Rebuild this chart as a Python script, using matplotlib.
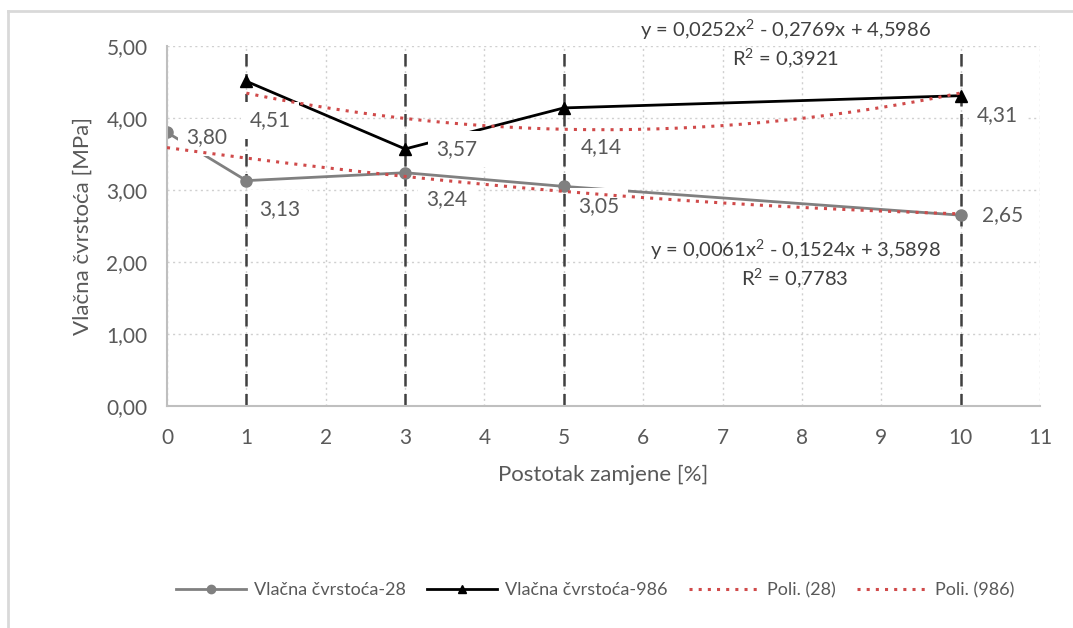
## plot.py: tensile strength vs replacement percentage with polynomial trendlines
# -----------------------------------------------------------------------------
print('\n*** vlacna cvrstoca: drawing figure ***')

# -----------------------------------------------------------------------------
print('\n## --- section__: importing items from module ---')
import numpy as np
from matplotlib import (pyplot as plt, lines as lin)

# -----------------------------------------------------------------------------
print('\n## --- section_a: setting data ---')
xx_28 = [0, 1, 3, 5, 10]
yy_28 = [3.80, 3.13, 3.24, 3.05, 2.65]
xx_986 = [1, 3, 5, 10]
yy_986 = [4.51, 3.57, 4.14, 4.31]
xx_mark = [1, 3, 5, 10]     # vertical dashed markers
# label offsets in pixels (right, down)
off_28 = [(40, 5), (33, 28), (42, 26), (35, 20), (42, 0)]
off_986 = [(24, 39), (52, 0), (38, 39), (37, 19)]
eq_28 = ('y = 0,0061x$^2$ - 0,1524x + 3,5898', 'R$^2$ = 0,7783')
eq_986 = ('y = 0,0252x$^2$ - 0,2769x + 4,5986', 'R$^2$ = 0,3921')
names = ['Vlačna čvrstoća-28', 'Vlačna čvrstoća-986', 'Poli. (28)', 'Poli. (986)']

# -----------------------------------------------------------------------------
print('\n## --- section_b: fitting polynomial trendlines ---')
cf_28 = np.polyfit(xx_28, yy_28, 2)
cf_986 = np.polyfit(xx_986, yy_986, 2)
xs_28 = np.linspace(min(xx_28), max(xx_28), 200)
xs_986 = np.linspace(min(xx_986), max(xx_986), 200)
print(f'coef 28 = {cf_28},  coef 986 = {cf_986}')

# -----------------------------------------------------------------------------
print('\n## --- section_c: drawing figure ---')
plt.rcParams['font.family'] = ['Lato', 'DejaVu Sans']
plt.rcParams['mathtext.fontset'] = 'custom'
plt.rcParams['mathtext.rm'] = 'Lato'
plt.rcParams['mathtext.it'] = 'Lato'
grey, txt, red = '#808080', '#595959', '#D04A4A'

fig = plt.figure(figsize=(10.73, 6.28), dpi=100)
ax = fig.add_axes([167/1073, 1-406/628, (1040-167)/1073, (406-46)/628])

ax.grid(True, linestyle=(0, (1.5, 2.5)), color='#D0D0D0', linewidth=1.0, zorder=0.5)
ax.set_axisbelow(True)
for xm in xx_mark:
    ax.plot([xm, xm], [0, 5], linestyle=(0, (5, 3)), color='#404040',
        linewidth=1.8, zorder=1.5)

ax.plot(xx_28, yy_28, color=grey, linewidth=2.0, marker='o', markersize=8,
    zorder=2, label=names[0])
ax.plot(xx_986, yy_986, color='black', linewidth=2.0, marker='^', markersize=8,
    zorder=2, label=names[1])
ax.plot(xs_28, np.polyval(cf_28, xs_28), linestyle=(0, (1, 2)), color=red,
    linewidth=2.2, zorder=4, label=names[2])
ax.plot(xs_986, np.polyval(cf_986, xs_986), linestyle=(0, (1, 2)), color=red,
    linewidth=2.2, zorder=4, label=names[3])

for xv, yv, (dx, dy) in zip(xx_28 + xx_986, yy_28 + yy_986, off_28 + off_986):
    ax.annotate(f'{yv:.2f}'.replace('.', ','), xy=(xv, yv), xytext=(dx, -dy),
        textcoords='offset pixels', ha='center', va='center', fontsize=15,
        color=txt, zorder=3,
        bbox=dict(boxstyle='square,pad=0.4', fc='white', ec='none'))

for (ln1, ln2), xc, yc in ((eq_986, 785, 30), (eq_28, 795, 250)):
    xd = (xc - 167) / (1040 - 167) * 11
    ax.text(xd, (406 - yc) / 72, ln1, ha='center', va='center', fontsize=14.5,
        color='#404040', zorder=5, clip_on=False)
    ax.text(xd, (406 - yc - 28) / 72, ln2, ha='center', va='center', fontsize=14.5,
        color='#404040', zorder=5, clip_on=False)

ax.set_xlim(0, 11)
ax.set_ylim(0, 5)
ax.set_xticks(range(0, 12))
ax.set_yticks(range(0, 6))
ax.set_yticklabels([f'{v:.2f}'.replace('.', ',') for v in range(0, 6)])
ax.tick_params(length=0, labelsize=15, labelcolor=txt)
ax.tick_params(axis='y', pad=14)
ax.tick_params(axis='x', pad=16)
for side in ('top', 'right'):
    ax.spines[side].set_visible(False)
for side in ('left', 'bottom'):
    ax.spines[side].set_color('#BFBFBF')
    ax.spines[side].set_linewidth(1.5)
ax.set_xlabel('Postotak zamjene [%]', fontsize=16, color=txt, labelpad=12)
ax.set_ylabel('Vlačna čvrstoća [MPa]', fontsize=16, color=txt, labelpad=10)

fig.legend(loc='center', bbox_to_anchor=(595/1073, 1-590/628), ncol=4,
    frameon=False, fontsize=13, labelcolor=txt, handlelength=3.9,
    columnspacing=1.15, handletextpad=0.45, markerscale=0.75)

# chart area border (left and top edges are visible in the picture)
fig.add_artist(lin.Line2D([8/1073, 8/1073], [0, 1-11/628], color='#D9D9D9', linewidth=2))
fig.add_artist(lin.Line2D([8/1073, 1], [1-11/628, 1-11/628], color='#D9D9D9', linewidth=2))

fig.savefig('out.png', dpi=100)
